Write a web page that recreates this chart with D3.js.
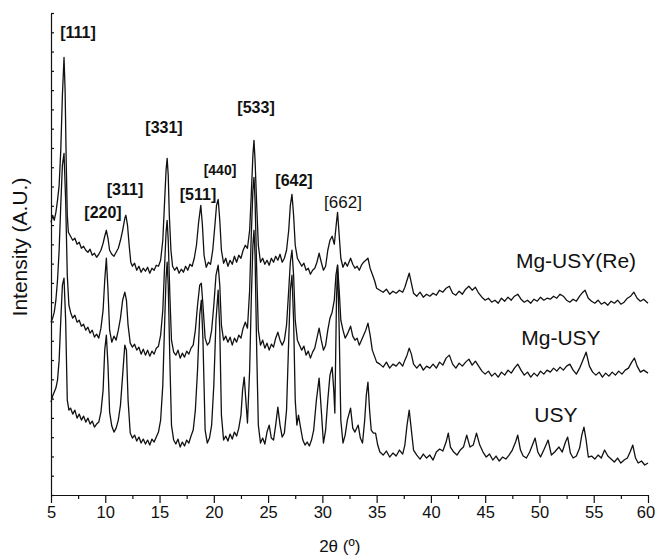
<!DOCTYPE html>
<html>
<head>
<meta charset="utf-8">
<script src="https://cdn.jsdelivr.net/npm/d3@7"></script>
<style>
  body { margin: 0; background: #fff; }
  text { font-family: "Liberation Sans", Arial, Helvetica, sans-serif; fill: #111; }
</style>
</head>
<body>
<svg id="chart" width="655" height="558"></svg>
<script>
// XRD patterns, [2theta, intensity (a.u.)], offset as in the original figure
var mgUsyRe = [[5.0,273],[5.15,280],[5.3,275],[5.45,283],[5.6,295],[5.75,310],[5.9,345],[6.05,400],[6.2,438],[6.3,405],[6.4,335],[6.5,280],[6.6,263],[6.8,259],[7.0,255],[7.2,257],[7.4,251],[7.6,253],[7.8,247],[8.0,249],[8.2,245],[8.4,243],[8.6,246],[8.8,240],[9.0,242],[9.2,238],[9.4,241],[9.6,245],[9.8,252],[9.95,259],[10.1,265],[10.25,257],[10.4,245],[10.6,241],[10.8,239],[11.0,243],[11.2,247],[11.4,255],[11.6,265],[11.8,277],[11.9,280],[12.05,270],[12.2,250],[12.35,233],[12.5,229],[12.7,232],[12.9,225],[13.1,229],[13.3,223],[13.5,227],[13.7,224],[13.9,228],[14.1,222],[14.3,227],[14.5,225],[14.7,230],[14.9,229],[15.1,235],[15.3,255],[15.45,290],[15.6,325],[15.7,337],[15.8,320],[15.9,280],[16.05,245],[16.2,229],[16.4,225],[16.6,228],[16.8,222],[17.0,226],[17.2,223],[17.4,229],[17.6,225],[17.8,231],[18.0,229],[18.2,237],[18.4,250],[18.6,273],[18.8,290],[18.95,270],[19.1,240],[19.3,228],[19.5,233],[19.7,231],[19.9,245],[20.1,270],[20.25,290],[20.4,296],[20.55,275],[20.7,245],[20.9,232],[21.1,237],[21.3,229],[21.5,235],[21.7,231],[21.9,239],[22.1,233],[22.3,240],[22.5,237],[22.7,245],[22.9,250],[23.1,247],[23.3,265],[23.45,300],[23.6,340],[23.7,355],[23.8,335],[23.95,290],[24.1,250],[24.3,233],[24.5,237],[24.7,231],[24.9,235],[25.1,230],[25.3,237],[25.5,233],[25.7,239],[25.9,235],[26.1,241],[26.3,233],[26.5,237],[26.7,245],[26.9,265],[27.05,290],[27.2,301],[27.35,280],[27.5,250],[27.7,237],[27.9,233],[28.1,229],[28.3,232],[28.5,225],[28.7,227],[28.9,221],[29.1,225],[29.3,227],[29.5,233],[29.7,242],[29.9,233],[30.1,225],[30.3,229],[30.5,245],[30.7,255],[30.9,259],[31.1,251],[31.3,273],[31.4,283],[31.55,260],[31.7,237],[31.9,228],[32.1,233],[32.3,229],[32.6,237],[32.8,231],[33.0,227],[33.2,229],[33.4,225],[33.6,230],[33.8,233],[34.0,235],[34.2,237],[34.4,227],[34.6,221],[34.8,215],[35.0,207],[35.3,205],[35.6,203],[35.9,206],[36.2,201],[36.5,204],[36.8,202],[37.1,205],[37.4,203],[37.6,208],[37.8,215],[38.0,222],[38.2,212],[38.4,202],[38.7,199],[39.0,203],[39.3,198],[39.6,201],[39.9,199],[40.2,202],[40.5,200],[40.8,205],[41.1,203],[41.4,207],[41.7,209],[42.0,202],[42.3,200],[42.6,204],[42.9,201],[43.2,206],[43.5,209],[43.8,205],[44.1,208],[44.4,202],[44.7,198],[45.0,195],[45.3,197],[45.6,193],[45.9,195],[46.2,192],[46.5,197],[46.8,194],[47.1,198],[47.4,195],[47.7,199],[48.0,201],[48.3,196],[48.6,193],[48.9,195],[49.2,192],[49.5,196],[49.8,194],[50.1,198],[50.4,195],[50.7,197],[51.0,196],[51.3,199],[51.6,197],[51.9,201],[52.2,199],[52.5,195],[52.8,193],[53.1,196],[53.4,194],[53.7,199],[54.0,203],[54.2,205],[54.5,197],[54.8,194],[55.1,192],[55.4,195],[55.7,191],[56.0,193],[56.3,190],[56.6,194],[56.9,192],[57.2,195],[57.5,191],[57.8,193],[58.1,197],[58.4,199],[58.7,203],[59.0,197],[59.3,194],[59.6,196],[60.0,192]];

var mgUsy = [[5.0,173],[5.15,177],[5.3,183],[5.45,195],[5.6,215],[5.75,245],[5.9,290],[6.05,330],[6.2,342],[6.35,295],[6.5,220],[6.65,190],[6.8,183],[7.0,177],[7.2,180],[7.4,173],[7.6,175],[7.8,169],[8.0,171],[8.2,165],[8.4,168],[8.6,162],[8.8,165],[9.0,158],[9.2,161],[9.4,157],[9.6,167],[9.8,185],[9.95,215],[10.1,237],[10.25,205],[10.4,165],[10.6,153],[10.8,159],[11.0,155],[11.2,165],[11.4,177],[11.6,195],[11.8,203],[11.95,195],[12.1,170],[12.3,152],[12.5,148],[12.7,151],[12.9,145],[13.1,148],[13.3,141],[13.5,146],[13.7,140],[13.9,145],[14.1,139],[14.3,144],[14.5,141],[14.7,147],[14.9,149],[15.1,160],[15.3,185],[15.45,225],[15.6,263],[15.7,275],[15.8,255],[15.95,200],[16.1,155],[16.3,143],[16.5,140],[16.7,145],[16.9,137],[17.1,142],[17.3,138],[17.5,144],[17.7,141],[17.9,147],[18.1,150],[18.3,165],[18.5,190],[18.7,210],[18.85,212],[19.0,190],[19.2,157],[19.4,150],[19.6,153],[19.8,165],[20.0,190],[20.2,220],[20.4,230],[20.55,210],[20.7,170],[20.9,155],[21.1,159],[21.3,153],[21.5,158],[21.7,150],[21.9,157],[22.1,153],[22.3,160],[22.5,157],[22.7,167],[22.9,173],[23.1,167],[23.3,205],[23.45,260],[23.6,305],[23.7,318],[23.8,295],[23.95,225],[24.1,165],[24.3,150],[24.5,155],[24.7,147],[24.9,152],[25.1,145],[25.3,151],[25.5,148],[25.7,157],[25.9,163],[26.1,155],[26.3,150],[26.5,155],[26.7,170],[26.9,205],[27.05,233],[27.2,245],[27.35,220],[27.5,175],[27.7,155],[27.9,150],[28.1,145],[28.3,149],[28.5,140],[28.7,144],[28.9,137],[29.1,143],[29.3,147],[29.5,157],[29.7,167],[29.9,155],[30.1,145],[30.3,150],[30.5,165],[30.7,177],[30.9,183],[31.1,195],[31.25,220],[31.4,230],[31.55,205],[31.7,175],[31.9,165],[32.1,157],[32.3,161],[32.6,169],[32.8,159],[33.0,155],[33.2,157],[33.4,150],[33.6,155],[33.8,160],[34.0,165],[34.2,172],[34.4,160],[34.6,145],[34.8,139],[35.0,133],[35.3,131],[35.6,128],[35.9,133],[36.2,127],[36.5,131],[36.8,129],[37.1,133],[37.4,129],[37.6,135],[37.8,140],[38.0,147],[38.2,141],[38.4,131],[38.7,127],[39.0,131],[39.3,125],[39.6,129],[39.9,127],[40.2,131],[40.5,127],[40.8,133],[41.1,130],[41.4,137],[41.7,140],[42.0,131],[42.3,127],[42.6,132],[42.9,129],[43.2,133],[43.5,136],[43.8,130],[44.1,134],[44.4,129],[44.7,124],[45.0,121],[45.3,124],[45.6,119],[45.9,122],[46.2,118],[46.5,123],[46.8,120],[47.1,125],[47.4,122],[47.7,127],[48.0,131],[48.3,125],[48.6,120],[48.9,123],[49.2,118],[49.5,122],[49.8,119],[50.1,124],[50.4,121],[50.7,125],[51.0,123],[51.3,127],[51.6,124],[51.9,128],[52.2,125],[52.5,129],[52.8,131],[53.1,125],[53.4,121],[53.7,127],[54.0,135],[54.3,143],[54.6,129],[54.9,123],[55.2,120],[55.5,123],[55.8,118],[56.1,122],[56.4,119],[56.7,123],[57.0,120],[57.3,124],[57.6,121],[57.9,125],[58.2,127],[58.5,133],[58.75,137],[59.0,129],[59.3,123],[59.6,125],[60.0,122]];

var usy = [[5.0,93],[5.15,99],[5.3,103],[5.45,107],[5.6,115],[5.75,135],[5.9,175],[6.05,210],[6.2,217],[6.35,175],[6.5,95],[6.65,85],[6.8,87],[7.0,81],[7.2,85],[7.4,77],[7.6,81],[7.8,75],[8.0,79],[8.2,73],[8.4,77],[8.6,71],[8.8,74],[9.0,68],[9.2,71],[9.4,73],[9.6,83],[9.8,105],[9.95,145],[10.1,160],[10.25,130],[10.4,83],[10.6,69],[10.8,63],[11.0,67],[11.2,75],[11.4,90],[11.6,120],[11.8,150],[11.95,145],[12.1,95],[12.3,62],[12.5,57],[12.7,60],[12.9,54],[13.1,58],[13.3,52],[13.5,56],[13.7,51],[13.9,55],[14.1,50],[14.3,56],[14.5,53],[14.7,58],[14.9,63],[15.1,75],[15.3,110],[15.45,165],[15.6,217],[15.7,233],[15.8,210],[15.95,135],[16.1,70],[16.3,55],[16.5,51],[16.7,56],[16.9,48],[17.1,53],[17.3,49],[17.5,55],[17.7,52],[17.9,59],[18.1,65],[18.3,85],[18.5,125],[18.7,180],[18.85,195],[19.0,155],[19.2,65],[19.4,52],[19.6,57],[19.8,70],[20.0,110],[20.2,175],[20.4,205],[20.55,165],[20.7,80],[20.9,55],[21.1,59],[21.3,54],[21.5,61],[21.7,56],[21.9,63],[22.1,59],[22.3,67],[22.5,80],[22.65,105],[22.8,118],[22.95,95],[23.1,72],[23.3,125],[23.45,195],[23.6,250],[23.7,265],[23.8,240],[23.95,145],[24.1,70],[24.3,52],[24.5,57],[24.7,51],[24.9,63],[25.1,70],[25.3,57],[25.5,55],[25.7,70],[25.9,88],[26.1,70],[26.3,58],[26.5,62],[26.7,85],[26.9,155],[27.05,205],[27.2,220],[27.35,175],[27.5,95],[27.65,70],[27.8,80],[28.0,67],[28.2,55],[28.4,50],[28.6,53],[28.8,49],[29.0,55],[29.2,65],[29.45,95],[29.7,117],[29.9,85],[30.1,52],[30.3,65],[30.5,95],[30.7,120],[30.9,128],[31.05,105],[31.15,82],[31.3,195],[31.4,230],[31.55,165],[31.7,75],[31.9,52],[32.1,60],[32.3,75],[32.6,87],[32.8,67],[33.0,63],[33.3,70],[33.5,57],[33.7,52],[33.9,75],[34.05,100],[34.2,113],[34.35,85],[34.5,65],[34.7,62],[34.9,62],[35.1,50],[35.3,43],[35.6,40],[35.9,44],[36.2,38],[36.5,42],[36.8,39],[37.1,45],[37.4,41],[37.6,50],[37.8,70],[38.0,85],[38.2,65],[38.4,45],[38.7,40],[39.0,36],[39.3,41],[39.6,37],[39.9,40],[40.2,35],[40.5,43],[40.8,46],[41.1,44],[41.4,53],[41.6,62],[41.8,48],[42.1,43],[42.4,40],[42.7,45],[43.0,48],[43.3,60],[43.6,48],[43.9,50],[44.2,62],[44.5,50],[44.8,43],[45.1,38],[45.4,41],[45.7,35],[46.0,39],[46.3,34],[46.6,38],[46.9,36],[47.2,40],[47.5,45],[47.8,53],[48.0,60],[48.25,45],[48.5,39],[48.8,37],[49.1,43],[49.35,50],[49.6,57],[49.85,43],[50.1,38],[50.4,45],[50.8,55],[51.1,40],[51.4,43],[51.8,48],[52.1,43],[52.4,53],[52.6,58],[52.85,42],[53.1,37],[53.4,39],[53.7,47],[53.9,60],[54.1,68],[54.3,55],[54.5,38],[54.8,39],[55.1,36],[55.4,40],[55.7,37],[56.0,45],[56.3,39],[56.6,36],[56.9,33],[57.2,37],[57.5,32],[57.8,35],[58.1,37],[58.35,43],[58.6,50],[58.85,37],[59.1,32],[59.4,34],[59.7,30],[60.0,32]];

var xMajorTicks = [5, 10, 15, 20, 25, 30, 35, 40, 45, 50, 55, 60];
var xMinorTicks = [7.5, 12.5, 17.5, 22.5, 27.5, 32.5, 37.5, 42.5, 47.5, 52.5, 57.5];

// Miller indices, anchored at [2theta, intensity]
var peakLabels = [
  {text: '[111]', x: 7.49, y: 457, size: 16, bold: true},
  {text: '[220]', x: 9.79, y: 277, size: 16, bold: true},
  {text: '[311]', x: 11.82, y: 300, size: 16, bold: true},
  {text: '[331]', x: 15.41, y: 362, size: 16, bold: true},
  {text: '[511]', x: 18.54, y: 295, size: 16, bold: true},
  {text: '[440]', x: 20.57, y: 320, size: 14, bold: true},
  {text: '[533]', x: 23.89, y: 382, size: 16, bold: true},
  {text: '[642]', x: 27.39, y: 309, size: 16, bold: true},
  {text: '[662]', x: 31.9, y: 287, size: 17, bold: false}
];

var sampleNames = ['Mg-USY(Re)', 'Mg-USY', 'USY'];
var sampleLabelPos = [[53.37, 227], [51.98, 150], [51.52, 73]];

var svg = d3.select('#chart');

var x = d3.scaleLinear().domain([5, 60]).range([51, 648]);
var y = d3.scaleLinear().domain([0, 482.5]).range([495, 13]);

var line = d3.line()
  .x(function(d) { return x(d[0]); })
  .y(function(d) { return y(d[1]); });

var series = [mgUsyRe, mgUsy, usy];

svg.append('g').selectAll('path')
  .data(series)
  .enter().append('path')
  .attr('d', line)
  .attr('fill', 'none')
  .attr('stroke', '#111')
  .attr('stroke-width', 1.3)
  .attr('stroke-linejoin', 'round');

// x axis: labelled major ticks and short minor ticks, both pointing down
var xAxis = svg.append('g')
  .attr('transform', 'translate(0,495)')
  .call(d3.axisBottom(x).tickValues(xMajorTicks).tickSize(8).tickSizeOuter(0).tickPadding(3));
xAxis.selectAll('text').style('font-size', '16.5px');
xAxis.selectAll('.tick').filter(function(d) { return d === 60; })
  .select('text').attr('dx', -2.5);

svg.append('g')
  .attr('transform', 'translate(0,495)')
  .call(d3.axisBottom(x).tickValues(xMinorTicks).tickSize(4).tickFormat(''))
  .select('.domain').remove();

// y axis: unlabelled ticks pointing into the plot
svg.append('g')
  .attr('transform', 'translate(51,0)')
  .call(d3.axisRight(y).tickValues(d3.range(0, 483, 19.3)).tickSize(3).tickSizeOuter(0).tickFormat(''));

svg.selectAll('.domain, .tick line').attr('stroke', '#111').attr('stroke-width', 1.2);

svg.append('text')
  .attr('x', x(31.6))
  .attr('y', 552)
  .attr('text-anchor', 'middle')
  .style('font-size', '17px')
  .text('2θ (º)');

svg.append('text')
  .attr('transform', 'translate(27,247) rotate(-90)')
  .attr('text-anchor', 'middle')
  .style('font-size', '21px')
  .text('Intensity (A.U.)');

svg.append('g').selectAll('text')
  .data(peakLabels)
  .enter().append('text')
  .attr('x', function(d) { return x(d.x); })
  .attr('y', function(d) { return y(d.y); })
  .attr('text-anchor', 'middle')
  .style('font-size', function(d) { return d.size + 'px'; })
  .style('font-weight', function(d) { return d.bold ? 'bold' : 'normal'; })
  .text(function(d) { return d.text; });

svg.append('g').selectAll('text')
  .data(sampleNames)
  .enter().append('text')
  .attr('x', function(d, i) { return x(sampleLabelPos[i][0]); })
  .attr('y', function(d, i) { return y(sampleLabelPos[i][1]); })
  .attr('text-anchor', 'middle')
  .style('font-size', '21px')
  .text(function(d) { return d; });
</script>
</body>
</html>
